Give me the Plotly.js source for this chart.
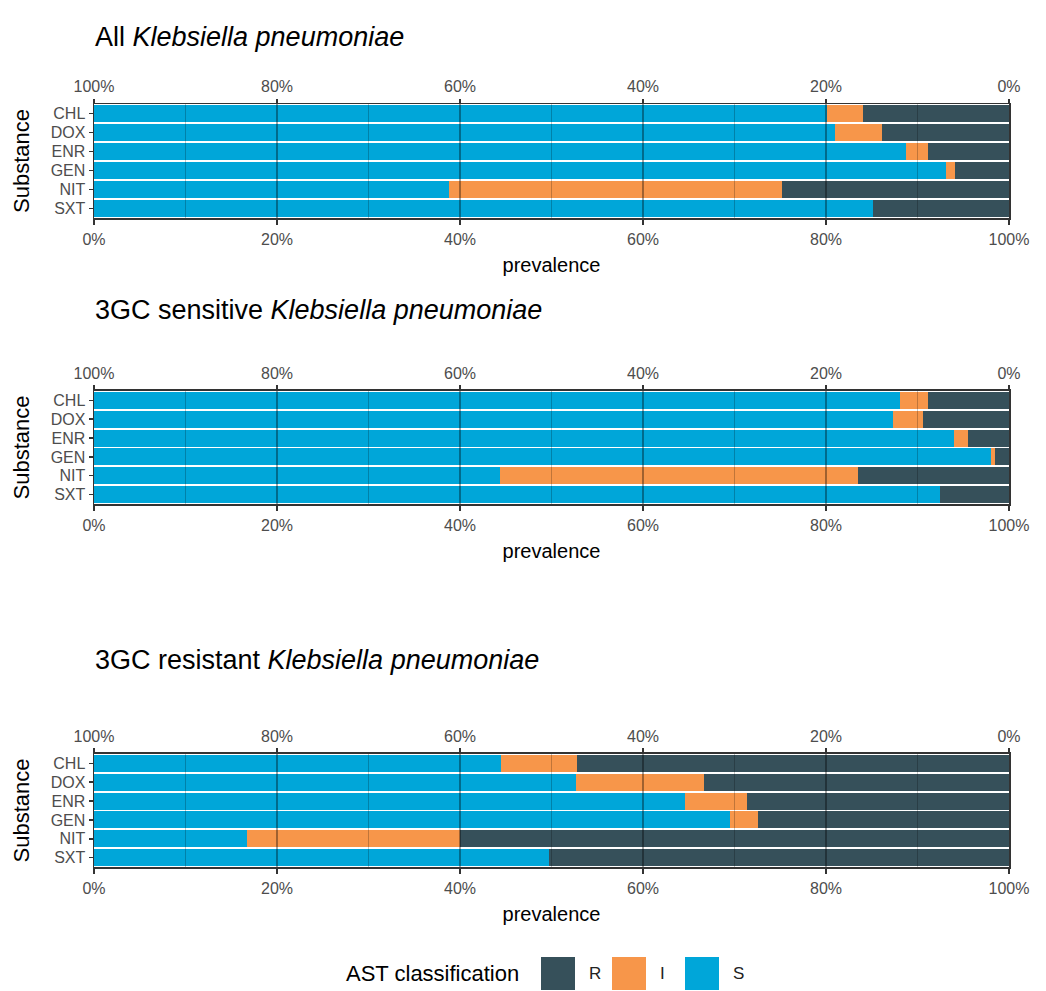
<!DOCTYPE html>
<html>
<head>
<meta charset="utf-8">
<script src="https://cdn.plot.ly/plotly-3.0.1.min.js"></script>
<style>html,body{margin:0;padding:0;background:#fff;}#chart{width:1046px;height:991px;}</style>
</head>
<body>
<div id="chart"></div>
<script>
// ---- data (percent of isolates) ----
const substances = ['CHL', 'DOX', 'ENR', 'GEN', 'NIT', 'SXT'];
const classes = ['S', 'I', 'R'];
const legendOrder = ['R', 'I', 'S'];

const allS = [80.1, 81.0, 88.7, 93.1, 38.8, 85.1];
const allI = [3.9, 5.1, 2.5, 1.0, 36.4, 0.0];
const allR = [16.0, 13.9, 8.8, 5.9, 24.8, 14.9];

const sensS = [88.1, 87.3, 94.0, 98.0, 44.4, 92.5];
const sensI = [3.1, 3.3, 1.5, 0.5, 39.1, 0.0];
const sensR = [8.8, 9.4, 4.5, 1.5, 16.5, 7.5];

const resS = [44.5, 52.7, 64.6, 69.5, 16.7, 49.7];
const resI = [8.3, 14.0, 6.8, 3.1, 23.3, 0.0];
const resR = [47.2, 33.3, 28.6, 27.4, 60.0, 50.3];

const panelTitles = [
  'All <i>Klebsiella pneumoniae</i>',
  '3GC sensitive <i>Klebsiella pneumoniae</i>',
  '3GC resistant <i>Klebsiella pneumoniae</i>'
];
const tickVals = [0, 20, 40, 60, 80, 100];
const tickLabels = ['0%', '20%', '40%', '60%', '80%', '100%'];
const gridVals = [10, 20, 30, 40, 50, 60, 70, 80, 90];

// ---- style ----
const colors = {S: '#00a6d9', I: '#f7964a', R: '#36505a'};
const FONT = 'Liberation Sans, Arial, sans-serif';
const panels = [
  {S: allS, I: allI, R: allR, x: 'x', xTop: 'x2', y: 'y', dom: [0.780, 0.895], titleY: 0.963},
  {S: sensS, I: sensI, R: sensR, x: 'x3', xTop: 'x4', y: 'y2', dom: [0.4914, 0.6055], titleY: 0.687},
  {S: resS, I: resI, R: resR, x: 'x5', xTop: 'x6', y: 'y3', dom: [0.1251, 0.2392], titleY: 0.334}
];

// S and I stack from the left on the bottom axis; R is measured from the right on the reversed top axis
const traces = [];
panels.forEach((p, pi) => {
  classes.forEach(c => {
    traces.push({
      type: 'bar', orientation: 'h',
      y: substances, x: p[c], name: c,
      xaxis: c === 'R' ? p.xTop : p.x, yaxis: p.y,
      marker: {color: colors[c], line: {width: 0}},
      legendgroup: c, showlegend: false,
      hoverinfo: 'x+y+name'
    });
  });
});

const tickCommon = {
  tickmode: 'array', tickvals: tickVals, ticktext: tickLabels,
  ticks: 'outside', ticklen: 5, tickwidth: 1.5, tickcolor: '#333',
  tickfont: {size: 16, color: '#4d4d4d'},
  showline: true, linecolor: '#333', linewidth: 1.5,
  showgrid: false, zeroline: false, fixedrange: true
};

const layout = {
  width: 1046, height: 991,
  margin: {l: 94, r: 37, t: 0, b: 0},
  paper_bgcolor: '#fff', plot_bgcolor: '#fff',
  barmode: 'stack', bargap: 0.1,
  font: {family: FONT, color: '#000'},
  showlegend: false,
  annotations: [],
  shapes: []
};

panels.forEach((p, pi) => {
  const yKey = p.y === 'y' ? 'yaxis' : 'yaxis' + p.y.slice(1);
  const xKey = 'xaxis' + (p.x === 'x' ? '' : p.x.slice(1));
  const xTopKey = 'xaxis' + p.xTop.slice(1);
  layout[xKey] = Object.assign({}, tickCommon, {
    domain: [0, 1], anchor: p.y, range: [0, 100], ticklabelstandoff: 1,
    title: {text: 'prevalence', font: {size: 20, color: '#000'}, standoff: 11}
  });
  layout[xTopKey] = Object.assign({}, tickCommon, {
    overlaying: p.x, anchor: p.y, side: 'top', range: [100, 0], ticklen: 4
  });
  layout[yKey] = {
    domain: p.dom, anchor: p.x, autorange: 'reversed', type: 'category',
    tickmode: 'array', tickvals: substances, ticktext: substances,
    ticks: 'outside', ticklen: 4, tickwidth: 1.5, tickcolor: '#333',
    tickfont: {size: 16, color: '#4d4d4d'},
    showline: true, linecolor: '#333', linewidth: 1.5, mirror: true,
    showgrid: false, zeroline: false, fixedrange: true,
    title: {text: 'Substance', font: {size: 22, color: '#000'}, standoff: 15}
  };
  layout.annotations.push({
    text: panelTitles[pi], xref: 'paper', yref: 'paper',
    x: -0.001, xanchor: 'left', y: p.titleY, yanchor: 'middle',
    showarrow: false, font: {size: 27, color: '#000'}
  });
  gridVals.forEach(v => {
    const major = v % 20 === 0;
    layout.shapes.push({
      type: 'line', layer: 'above', xref: p.x, yref: p.y + ' domain',
      x0: v, x1: v, y0: 0, y1: 1,
      line: {color: major ? 'rgba(0,0,0,0.55)' : 'rgba(0,0,0,0.28)', width: major ? 1.3 : 0.8}
    });
  });
});

// ---- legend (drawn in pixel-like paper coordinates below the last panel) ----
const pxX = px => (px - 94) / 915;
const pxY = py => 1 - py / 991;
layout.annotations.push({
  text: 'AST classification', xref: 'paper', yref: 'paper',
  x: pxX(521), xanchor: 'right', y: pxY(973), yanchor: 'middle',
  showarrow: false, font: {size: 22, color: '#000'}
});
const keyLeft = [541, 612, 685];
legendOrder.forEach((c, i) => {
  layout.shapes.push({
    type: 'rect', xref: 'paper', yref: 'paper', layer: 'above',
    x0: pxX(keyLeft[i]), x1: pxX(keyLeft[i] + 34), y0: pxY(957), y1: pxY(990),
    fillcolor: colors[c], line: {width: 0}
  });
  layout.annotations.push({
    text: c, xref: 'paper', yref: 'paper',
    x: pxX(keyLeft[i] + 46), xanchor: 'left', y: pxY(973), yanchor: 'middle',
    showarrow: false, font: {size: 17, color: '#222'}
  });
});

Plotly.newPlot('chart', traces, layout, {displayModeBar: false, staticPlot: true});
</script>
</body>
</html>
